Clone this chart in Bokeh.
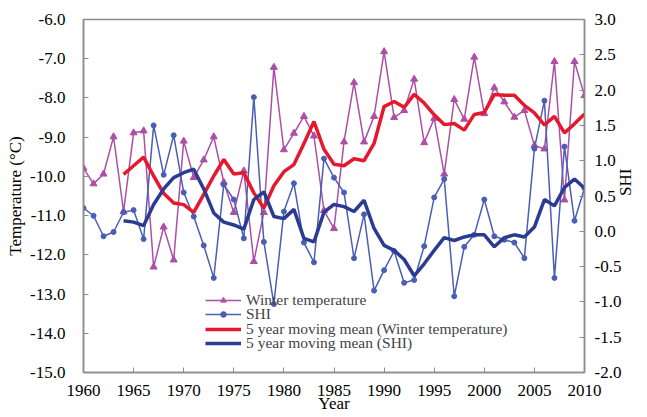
import math
from bokeh.plotting import figure
from bokeh.models import Range1d, LinearAxis, NumeralTickFormatter, FixedTicker, Legend, LegendItem
from bokeh.embed import file_html
from bokeh.resources import INLINE

years = list(range(1960, 2011))
winter_temp = [-9.79, -10.19, -9.94, -8.99, -10.90, -8.89, -8.84, -12.31, -11.29, -12.13,
               -9.10, -10.03, -9.58, -8.99, -10.15, -10.92, -9.86, -12.17, -10.92, -7.22,
               -9.32, -8.90, -8.47, -8.97, -10.87, -11.33, -9.12, -7.61, -9.12, -8.47,
               -6.82, -8.50, -8.32, -7.52, -9.14, -8.52, -9.94, -8.04, -8.54, -6.96,
               -8.40, -7.74, -8.10, -8.49, -8.32, -9.21, -9.30, -7.07, -10.60, -7.07,
               -7.94]
shi = [0.33, 0.22, -0.07, -0.01, 0.27, 0.30, -0.11, 1.50, 0.80, 1.36,
       0.55, 0.21, -0.20, -0.66, 0.66, 0.45, -0.10, 1.90, -0.15, -1.03,
       0.28, 0.68, -0.16, -0.44, 1.03, 0.76, 0.55, -0.38, 0.24, -0.84,
       -0.55, -0.28, -0.73, -0.69, -0.21, 0.48, 0.74, -0.92, -0.22, -0.05,
       0.45, -0.07, -0.12, -0.16, -0.38, 1.17, 1.85, -0.66, 1.20, 0.15,
       0.61]
ma_years = list(range(1964, 2011))
temp_ma = [-9.95, -9.73, -9.51, -9.99, -10.43, -10.68,
           -10.72, -10.92, -10.46, -9.99, -9.57, -9.94, -9.91, -10.42, -10.81, -10.24,
           -9.88, -9.70, -9.16, -8.60, -9.31, -9.69, -9.73, -9.55, -9.60, -9.16,
           -8.22, -8.09, -8.24, -7.91, -8.13, -8.43, -8.68, -8.65, -8.82, -8.42,
           -8.37, -7.91, -7.93, -7.93, -8.19, -8.38, -8.69, -8.47, -8.89, -8.66,
           -8.41]
shi_ma = [0.15, 0.13, 0.08, 0.38, 0.60, 0.76,
          0.83, 0.88, 0.60, 0.26, 0.13, 0.09, 0.03, 0.45, 0.56, 0.21,
          0.18, 0.31, -0.10, -0.15, 0.27, 0.38, 0.35, 0.28, 0.44, 0.04,
          -0.20, -0.27, -0.40, -0.63, -0.46, -0.27, -0.09, -0.13, -0.08, -0.05,
          -0.05, -0.22, -0.09, -0.05, -0.08, 0.06, 0.45, 0.36, 0.62, 0.74,
          0.61]
x_ticks = list(range(1960, 2011, 5))
temp_ticks = [-15, -14, -13, -12, -11, -10, -9, -8, -7, -6]
shi_ticks = [-2.0, -1.5, -1.0, -0.5, 0.0, 0.5, 1.0, 1.5, 2.0, 2.5, 3.0]
legend_labels = ["Winter temperature", "SHI",
                 "5 year moving mean (Winter temperature)", "5 year moving mean (SHI)"]

FONT = "Liberation Serif"
C_TEMP = "#AD4FA6"
C_SHI = "#4A5FB3"
C_TEMP_MA = "#E5182C"
C_SHI_MA = "#2C3B92"

W, H = 647, 417
BL, BR, BT, BB = 83, 61, 19, 45

p = figure(width=W, height=H, x_range=Range1d(1960, 2010), y_range=Range1d(-15, -6),
           output_backend="svg", toolbar_location=None,
           min_border_left=BL, min_border_right=BR, min_border_top=BT, min_border_bottom=BB)
p.extra_y_ranges = {"shi": Range1d(-2, 3)}
p.xgrid.visible = False
p.ygrid.visible = False
p.outline_line_color = "#8c8c8c"
p.outline_line_width = 1.5

r1l = p.line(years, winter_temp, line_color=C_TEMP, line_width=1.5)
r1s = p.scatter(years, winter_temp, marker="triangle", size=7, fill_color=C_TEMP, line_color=C_TEMP)
r2l = p.line(years, shi, line_color=C_SHI, line_width=1.5, y_range_name="shi")
r2s = p.scatter(years, shi, marker="circle", size=5, fill_color=C_SHI, line_color=C_SHI, y_range_name="shi")
r3 = p.line(ma_years, temp_ma, line_color=C_TEMP_MA, line_width=3.5)
r4 = p.line(ma_years, shi_ma, line_color=C_SHI_MA, line_width=3.5, y_range_name="shi")

right = LinearAxis(y_range_name="shi")
p.add_layout(right, "right")

for ax in [p.xaxis[0], p.yaxis[0], right]:
    ax.axis_line_color = "#8c8c8c"
    ax.axis_line_width = 1.5
    ax.major_tick_line_color = "#8c8c8c"
    ax.major_tick_in = 5
    ax.major_tick_out = 0
    ax.minor_tick_line_color = None
    ax.major_label_text_font = FONT
    ax.major_label_text_font_size = "17px"
    ax.major_label_text_color = "black"
    ax.axis_label_text_font = FONT
    ax.axis_label_text_font_size = "17px"
    ax.axis_label_text_font_style = "normal"
    ax.axis_label_text_color = "black"

p.xaxis[0].ticker = FixedTicker(ticks=x_ticks)
p.xaxis[0].formatter = NumeralTickFormatter(format="0")
p.xaxis[0].axis_label = "Year"
p.xaxis[0].major_label_standoff = 12
p.xaxis[0].axis_label_standoff = -5

p.yaxis[0].ticker = FixedTicker(ticks=temp_ticks)
p.yaxis[0].formatter = NumeralTickFormatter(format="0.0")
p.yaxis[0].axis_label = "Temperature (°C)"
p.yaxis[0].major_label_standoff = 18
p.yaxis[0].axis_label_standoff = 2

right.ticker = FixedTicker(ticks=shi_ticks)
right.formatter = NumeralTickFormatter(format="0.0")
right.axis_label = "SHI"
right.major_label_standoff = 10
right.axis_label_standoff = 1
try:
    right.axis_label_orientation = math.pi / 2
except Exception:
    pass

legend_renderers = [[r1l, r1s], [r2l, r2s], [r3], [r4]]
legend_rows_y = [63, 49, 34, 20]
for lab, rends, ly in zip(legend_labels, legend_renderers, legend_rows_y):
    lg = Legend(items=[LegendItem(label=lab, renderers=rends)], location=(122, ly))
    lg.label_text_font = FONT
    lg.label_text_font_size = "15.5px"
    lg.label_height = 14
    lg.glyph_height = 14
    lg.glyph_width = 36
    lg.label_standoff = 5
    lg.spacing = 0
    lg.padding = 0
    lg.margin = 0
    lg.border_line_color = None
    lg.background_fill_alpha = 0
    p.add_layout(lg)

open("out.html", "w").write(file_html(p, INLINE))
